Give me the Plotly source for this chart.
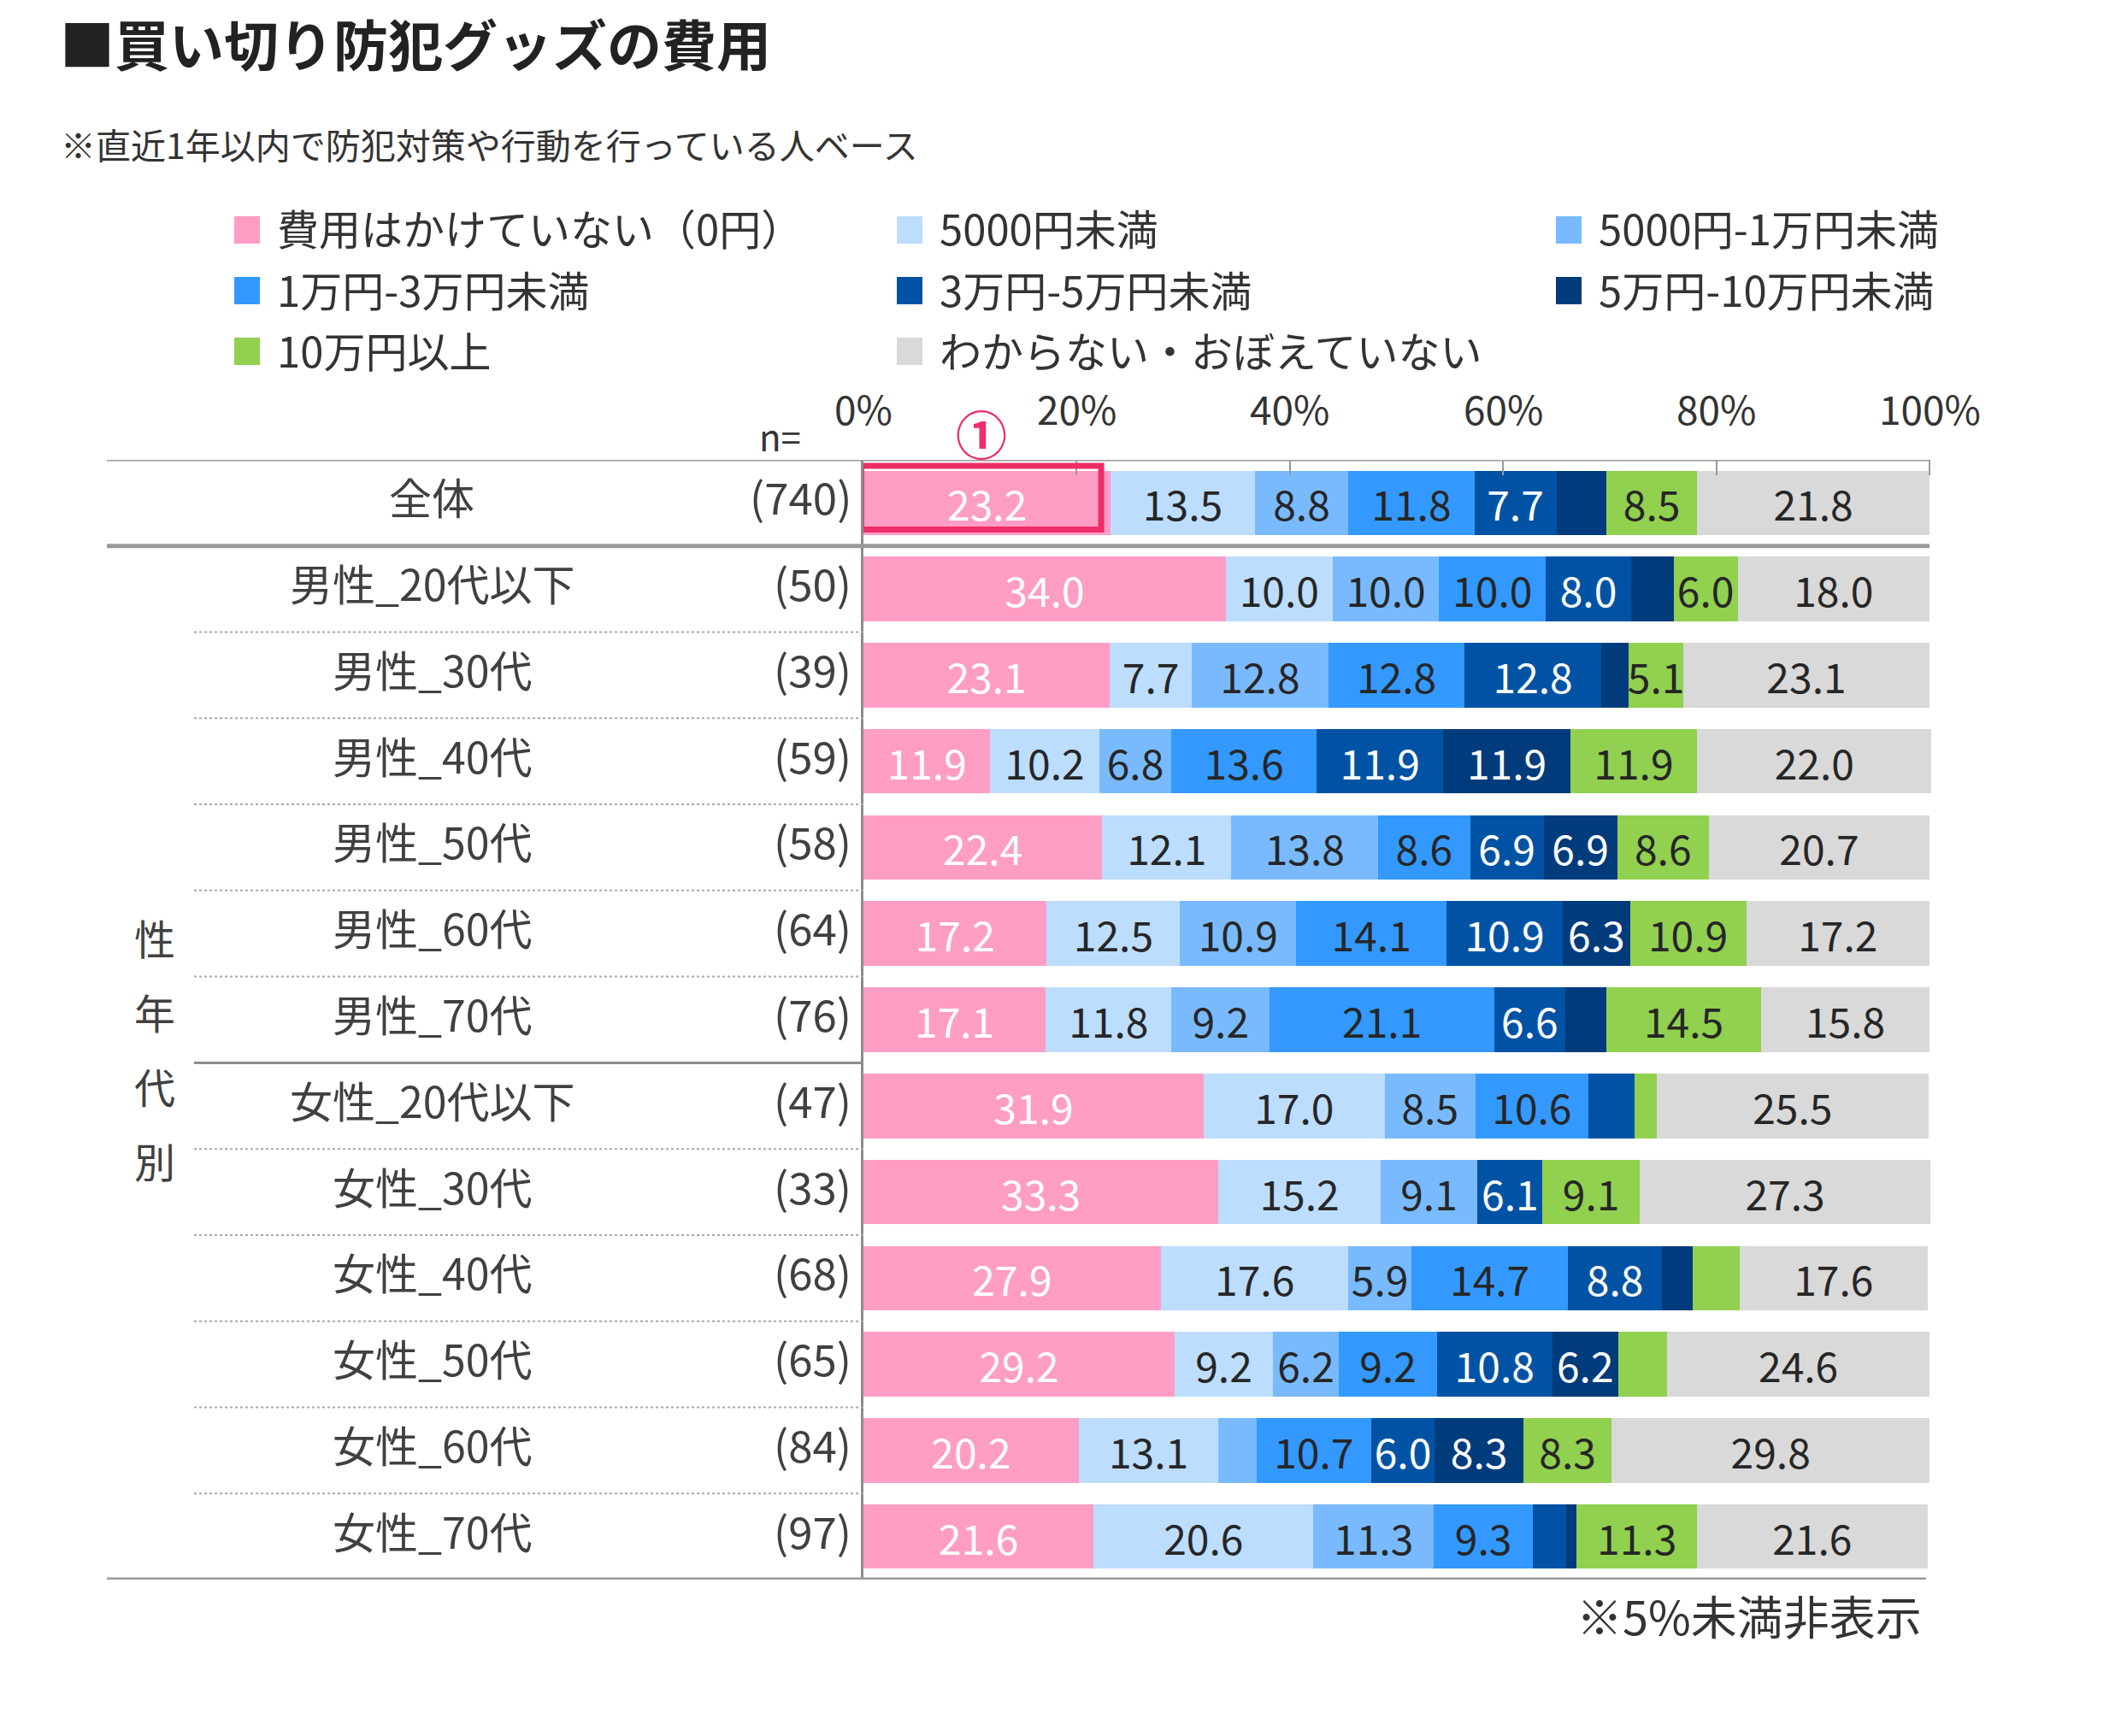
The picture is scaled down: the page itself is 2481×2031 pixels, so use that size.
import plotly.graph_objects as go

W, H = 2481, 2031
FONT = "Noto Sans CJK JP"

# ---------------- data ----------------
categories = ["全体", "男性_20代以下", "男性_30代", "男性_40代", "男性_50代", "男性_60代", "男性_70代",
              "女性_20代以下", "女性_30代", "女性_40代", "女性_50代", "女性_60代", "女性_70代"]
sample_sizes = [740, 50, 39, 59, 58, 64, 76, 47, 33, 68, 65, 84, 97]

series_names = ["費用はかけていない（0円）", "5000円未満", "5000円-1万円未満",
                "1万円-3万円未満", "3万円-5万円未満", "5万円-10万円未満",
                "10万円以上", "わからない・おぼえていない"]

v_zero      = [23.2, 34.0, 23.1, 11.9, 22.4, 17.2, 17.1, 31.9, 33.3, 27.9, 29.2, 20.2, 21.6]
v_lt5000    = [13.5, 10.0, 7.7, 10.2, 12.1, 12.5, 11.8, 17.0, 15.2, 17.6, 9.2, 13.1, 20.6]
v_5000_1man = [8.8, 10.0, 12.8, 6.8, 13.8, 10.9, 9.2, 8.5, 9.1, 5.9, 6.2, 3.6, 11.3]
v_1_3man    = [11.8, 10.0, 12.8, 13.6, 8.6, 14.1, 21.1, 10.6, 0.0, 14.7, 9.2, 10.7, 9.3]
v_3_5man    = [7.7, 8.0, 12.8, 11.9, 6.9, 10.9, 6.6, 4.3, 6.1, 8.8, 10.8, 6.0, 3.1]
v_5_10man   = [4.7, 4.0, 2.6, 11.9, 6.9, 6.3, 3.9, 0.0, 0.0, 2.9, 6.2, 8.3, 1.0]
v_10man_up  = [8.5, 6.0, 5.1, 11.9, 8.6, 10.9, 14.5, 2.1, 9.1, 4.4, 4.6, 8.3, 11.3]
v_unknown   = [21.8, 18.0, 23.1, 22.0, 20.7, 17.2, 15.8, 25.5, 27.3, 17.6, 24.6, 29.8, 21.6]

series_values = [v_zero, v_lt5000, v_5000_1man, v_1_3man, v_3_5man, v_5_10man, v_10man_up, v_unknown]

tick_values = [0, 20, 40, 60, 80, 100]
tick_labels = ["0%", "20%", "40%", "60%", "80%", "100%"]

# ---------------- styles ----------------
series_colors = ["#FF9DC4", "#BDDDFF", "#79BAFF", "#3399FF", "#0053A4", "#003B7C", "#92D050", "#D9D9D9"]
text_colors = ["#FFFFFF", "#262626", "#262626", "#262626", "#FFFFFF", "#FFFFFF", "#262626", "#262626"]
LABEL_MIN = 5.0

X0, X1 = 1010, 2257      # plot area left / 100% position (px)
Y0, Y1 = 538, 1848       # plot area top/bottom (px)
XMAX = 100.3             # small headroom so rows summing slightly above 100 are not clipped


def px(x):
    return x / W


def py(y):
    return 1 - y / H


fig = go.Figure()
for name, color, tc, vals in zip(series_names, series_colors, text_colors, series_values):
    fig.add_trace(go.Bar(
        y=categories, x=vals, orientation="h", name=name,
        marker=dict(color=color, line=dict(width=0)),
        text=[f"{v:.1f}" if v >= LABEL_MIN else "" for v in vals],
        textposition="inside", insidetextanchor="middle", textangle=0,
        textfont=dict(family=FONT, size=48, color=tc),
        width=0.75, hoverinfo="skip", showlegend=False, cliponaxis=False,
    ))

shapes = []
grey = "#9A9A9A"
# horizontal frame lines
shapes.append(dict(type="line", xref="paper", yref="y", x0=px(125), x1=px(X1), y0=-0.5, y1=-0.5,
                   line=dict(color=grey, width=3)))
shapes.append(dict(type="line", xref="paper", yref="y", x0=px(125), x1=px(X1), y0=0.5, y1=0.5,
                   line=dict(color=grey, width=5)))
shapes.append(dict(type="line", xref="paper", yref="y", x0=px(125), x1=px(X1 - 4), y0=12.5, y1=12.5,
                   line=dict(color=grey, width=5)))
# row separators
for k in range(1, 12):
    solid = (k == 6)
    shapes.append(dict(type="line", xref="paper", yref="y", x0=px(227), x1=px(X0), y0=k + 0.5, y1=k + 0.5,
                       line=dict(color="#8C8C8C" if solid else "#A8A8A8", width=3 if solid else 2,
                                 dash="solid" if solid else "dot")))
# highlight box around 全体 / 0円
shapes.append(dict(type="rect", xref="x", yref="y", x0=-0.2, x1=v_zero[0] - 0.9, y0=-0.43, y1=0.31,
                   line=dict(color="#EE2E68", width=7), fillcolor="rgba(0,0,0,0)"))

annotations = []
# title / subtitle
annotations.append(dict(text="<b>■買い切り防犯グッズの費用</b>", x=px(68), y=py(49), xref="paper", yref="paper",
                        xanchor="left", yanchor="middle", showarrow=False,
                        font=dict(family=FONT, size=64, color="#222222")))
annotations.append(dict(text="※直近1年以内で防犯対策や行動を行っている人ベース", x=px(69), y=py(168),
                        xref="paper", yref="paper", xanchor="left", yanchor="middle", showarrow=False,
                        font=dict(family=FONT, size=41, color="#333333")))

# manual legend (3 columns)
col_x = [274, 1049, 1820]
for i, (name, color) in enumerate(zip(series_names, series_colors)):
    c, r = i % 3, i // 3
    mx = col_x[c]
    ry = 268 + 71 * r
    shapes.append(dict(type="rect", xref="paper", yref="paper", x0=px(mx), x1=px(mx + 30),
                       y0=py(ry - 15), y1=py(ry + 17), line=dict(width=0), fillcolor=color))
    annotations.append(dict(text=name, x=px(mx + 48), y=py(ry - 2), xref="paper", yref="paper",
                            xanchor="left", yanchor="middle", showarrow=False,
                            font=dict(family=FONT, size=49, color="#333333")))

# axis tick labels
for tv, tl in zip(tick_values, tick_labels):
    annotations.append(dict(text=tl, x=tv, y=py(477), xref="x", yref="paper", xanchor="center",
                            yanchor="middle", showarrow=False, font=dict(family=FONT, size=46, color="#333333")))

annotations.append(dict(text="n=", x=px(912), y=py(509), xref="paper", yref="paper", xanchor="center",
                        yanchor="middle", showarrow=False, font=dict(family=FONT, size=42, color="#333333")))
annotations.append(dict(text="<b>①</b>", x=v_zero[0] / 2 - 0.5, y=py(505), xref="x", yref="paper",
                        xanchor="center", yanchor="middle", showarrow=False,
                        font=dict(family=FONT, size=60, color="#EE2E68")))

# row labels
for cat, n in zip(categories, sample_sizes):
    annotations.append(dict(text=cat, x=px(505), y=cat, xref="paper", yref="y", xanchor="center",
                            yanchor="middle", yshift=8, showarrow=False,
                            font=dict(family=FONT, size=50, color="#404040")))
    annotations.append(dict(text=f"({n})", x=px(998), y=cat, xref="paper", yref="y", xanchor="right",
                            yanchor="middle", yshift=8, showarrow=False,
                            font=dict(family=FONT, size=51, color="#404040")))

# vertical group label
for ch, yy in zip("性年代別", [1096, 1183, 1270, 1357]):
    annotations.append(dict(text=ch, x=px(181), y=py(yy), xref="paper", yref="paper", xanchor="center",
                            yanchor="middle", showarrow=False, font=dict(family=FONT, size=48, color="#404040")))

annotations.append(dict(text="※5%未満非表示", x=px(2250), y=py(1889), xref="paper", yref="paper",
                        xanchor="right", yanchor="middle", showarrow=False,
                        font=dict(family=FONT, size=54, color="#333333")))

x_dom_right = X0 + (X1 - X0) * XMAX / 100.0

fig.update_layout(
    barmode="stack", width=W, height=H,
    margin=dict(l=0, r=0, t=0, b=0),
    paper_bgcolor="white", plot_bgcolor="white",
    font=dict(family=FONT),
    uniformtext=dict(mode="show", minsize=48),
    shapes=shapes, annotations=annotations,
    xaxis=dict(domain=[px(X0), px(x_dom_right)], range=[0, XMAX], side="top", tickvals=tick_values,
               ticks="inside", ticklen=18, tickwidth=2, tickcolor=grey, showticklabels=False,
               showgrid=False, zeroline=False, showline=False, fixedrange=True),
    yaxis=dict(domain=[py(Y1), py(Y0)], type="category", categoryorder="array", categoryarray=categories,
               range=[12.5, -0.5], showticklabels=False, showgrid=False, zeroline=False,
               showline=True, linecolor="#8C8C8C", linewidth=3, ticks="", fixedrange=True),
)

fig.write_html("out.html", config={"displayModeBar": False},
               post_script="document.body.style.margin='0px';")
